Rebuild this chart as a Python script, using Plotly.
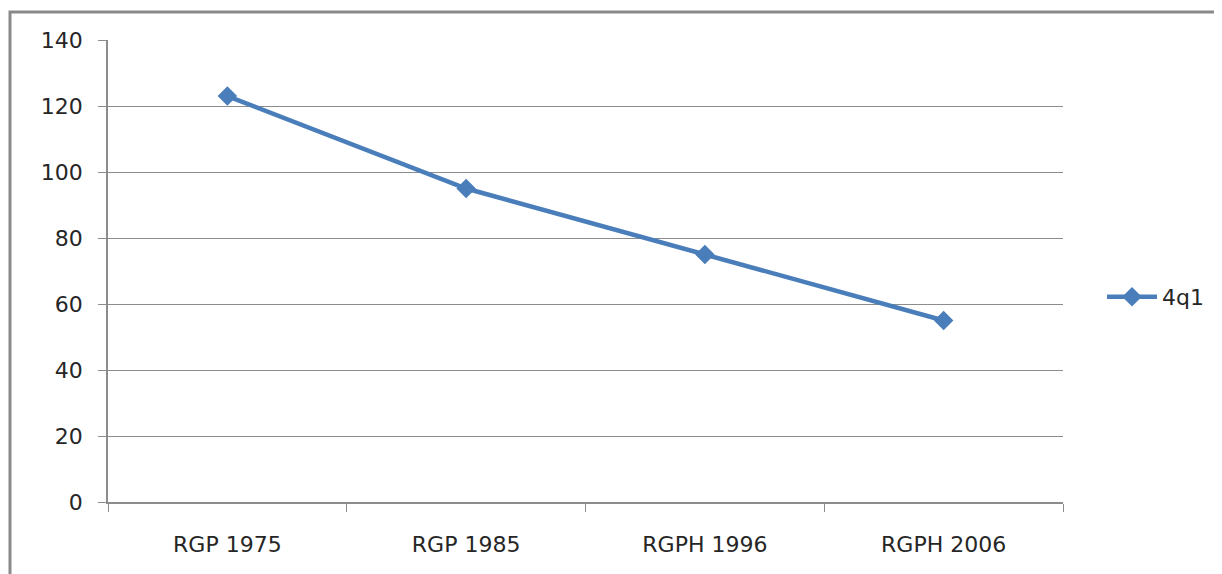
import plotly.graph_objects as go

categories = ["RGP 1975", "RGP 1985", "RGPH 1996", "RGPH 2006"]
values_4q1 = [123, 95, 75, 55]
series_name = "4q1"
y_ticks = [0, 20, 40, 60, 80, 100, 120, 140]

# page body has an 8px margin; work in screen pixels and offset
OFF = 8
W, H = 1222 - OFF, 574 - OFF
L, T = 108 - OFF, 40 - OFF
pw, ph = 955, 462
R = W - L - pw
B = H - T - ph

def px_x(x):
    return (x - OFF - L) / pw

def px_y(y):
    return (T + ph - (y - OFF)) / ph

blue = "#4A7EBB"
grid = "#8C8C8C"
font = dict(family="DejaVu Sans", size=22, color="#262626")

fig = go.Figure()
fig.add_trace(go.Scatter(
    x=categories, y=values_4q1, name=series_name, mode="lines+markers",
    line=dict(color=blue, width=4.5),
    marker=dict(symbol="diamond", size=15, color=blue),
))

fig.update_layout(
    width=W, height=H,
    margin=dict(l=L, r=R, t=T, b=B),
    paper_bgcolor="white", plot_bgcolor="white",
    font=font,
    showlegend=True,
    legend=dict(x=px_x(1102), y=px_y(297), xanchor="left", yanchor="middle",
                font=font, bgcolor="rgba(0,0,0,0)", itemwidth=50),
    xaxis=dict(type="category", range=[-0.5, 3.5], tickson="boundaries",
               ticks="outside", ticklen=8, tickcolor=grid, showline=True,
               linecolor=grid, linewidth=1.5, showgrid=False, zeroline=False,
               ticklabelstandoff=22),
    yaxis=dict(range=[0, 140], tickvals=y_ticks, ticks="outside", ticklen=8,
               tickcolor=grid, showline=True, linecolor=grid, linewidth=1.5,
               showgrid=True, gridcolor=grid, gridwidth=1.2, zeroline=False,
               ticklabelstandoff=11),
    shapes=[dict(type="rect", xref="paper", yref="paper",
                 x0=px_x(10), x1=px_x(1240), y0=px_y(600), y1=px_y(12),
                 line=dict(color="#8A8A8A", width=3), layer="below")],
)

fig.write_html("out.html")
